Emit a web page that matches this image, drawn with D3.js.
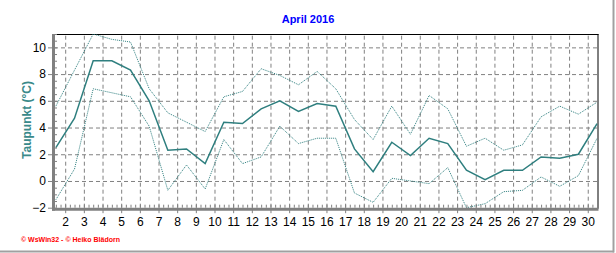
<!DOCTYPE html>
<html>
<head>
<meta charset="utf-8">
<script src="https://cdn.jsdelivr.net/npm/d3@7"></script>
<style>
  body { margin: 0; background: #fff; }
  svg { display: block; font-family: "Liberation Sans", Arial, sans-serif; }
  .tick text { fill: #000; }
</style>
</head>
<body>
<div class="chart"></div>
<script>
var svgWidth = 616;
var svgHeight = 253;

// plot frame inside the picture
var margin = { top: 34, right: 18, bottom: 45, left: 54 };
var width = 598 - margin.left;
var height = 207.7 - margin.top;

// values, one per day of April 2016
var days = d3.range(1, 31);
var dewMean = [2.5, 4.7, 9.0, 9.0, 8.3, 6.0, 2.3, 2.4, 1.3, 4.4,
               4.3, 5.4, 6.0, 5.2, 5.8, 5.6, 2.4, 0.7, 2.9, 1.9,
               3.2, 2.8, 0.8, 0.1, 0.8, 0.8, 1.8, 1.7, 2.0, 4.3];
var dewMax = [5.6, 8.3, 11.0, 10.6, 10.4, 6.9, 5.1, 4.4, 3.7, 6.3,
              6.7, 8.4, 7.9, 7.2, 8.2, 6.9, 4.6, 3.1, 5.6, 3.5,
              6.4, 5.4, 2.6, 3.2, 2.3, 2.7, 4.8, 5.6, 5.0, 5.9];
var dewMin = [-1.4, 0.9, 6.9, 6.6, 6.3, 4.1, -0.7, 1.2, -0.6, 3.1,
              1.3, 1.8, 4.1, 2.8, 3.2, 3.2, -0.9, -1.6, 0.2, 0.0,
              -0.2, 1.0, -2.0, -1.7, -0.8, -0.7, 0.3, -0.4, 0.4, 3.2];
var xTickDays = d3.range(2, 31);
var yTickValues = [-2, 0, 2, 4, 6, 8, 10];

var lineColor = "#2f7f7f";
var gridColor = "#808080";

var svg = d3.select(".chart")
    .append("svg")
    .attr("width", svgWidth)
    .attr("height", svgHeight);

// window frame lines on the right and bottom
svg.append("line")
    .attr("x1", 613.5).attr("x2", 613.5).attr("y1", 0).attr("y2", 252.5)
    .attr("stroke", "#a0a0a0").attr("stroke-width", 2);
svg.append("line")
    .attr("x1", 0).attr("x2", 614).attr("y1", 251.5).attr("y2", 251.5)
    .attr("stroke", "#a0a0a0").attr("stroke-width", 2);

var chartGroup = svg.append("g")
    .attr("transform", `translate(${margin.left}, ${margin.top})`);

// days are plotted at noon, so a point sits between two grid lines
var xScale = d3.scaleLinear()
    .domain([1.4, 30.55])
    .range([0, width]);

var yScale = d3.scaleLinear()
    .domain([-2, 11])
    .range([height, 0]);

// dashed grid
chartGroup.append("g")
    .attr("class", "grid")
    .call(d3.axisLeft(yScale).tickValues([0, 2, 4, 6, 8, 10]).tickSize(-width).tickFormat(""))
    .call(g => g.select(".domain").remove())
    .selectAll("line")
    .attr("stroke", gridColor)
    .attr("stroke-dasharray", "4,3");

chartGroup.append("g")
    .attr("class", "grid")
    .attr("transform", `translate(0, ${height})`)
    .call(d3.axisBottom(xScale).tickValues(xTickDays).tickSize(-height).tickFormat(""))
    .call(g => g.select(".domain").remove())
    .selectAll("line")
    .attr("stroke", gridColor)
    .attr("stroke-dasharray", "4,3");

// top and right border
chartGroup.append("line")
    .attr("x1", 0).attr("x2", width + 0.5).attr("y1", 0.5).attr("y2", 0.5)
    .attr("stroke", "#000");
chartGroup.append("line")
    .attr("x1", width).attr("x2", width).attr("y1", 0).attr("y2", height + 1)
    .attr("stroke", "#000");

// clip so the lines stay inside the frame
chartGroup.append("clipPath")
    .attr("id", "plot-clip")
    .append("rect")
    .attr("x", 0).attr("y", 0)
    .attr("width", width).attr("height", height + 1);

var lineGen = function (values) {
    return d3.line()
        .x((d, i) => xScale(days[i] + 0.5))
        .y(d => yScale(d))(values);
};

var linesGroup = chartGroup.append("g").attr("clip-path", "url(#plot-clip)");

linesGroup.append("path")
    .attr("d", lineGen(dewMax))
    .attr("fill", "none")
    .attr("stroke", lineColor)
    .attr("stroke-width", 1)
    .attr("stroke-dasharray", "1,1");

linesGroup.append("path")
    .attr("d", lineGen(dewMin))
    .attr("fill", "none")
    .attr("stroke", lineColor)
    .attr("stroke-width", 1)
    .attr("stroke-dasharray", "1,1");

linesGroup.append("path")
    .attr("d", lineGen(dewMean))
    .attr("fill", "none")
    .attr("stroke", lineColor)
    .attr("stroke-width", 1.5);

// minor ticks inside the axes
chartGroup.append("g")
    .call(d3.axisRight(yScale).tickValues(d3.range(-2, 11.01, 0.5)).tickSize(3).tickFormat(""))
    .call(g => g.select(".domain").remove())
    .selectAll("line").attr("stroke", gridColor);

chartGroup.append("g")
    .attr("transform", `translate(0, ${height})`)
    .call(d3.axisTop(xScale).tickValues(d3.range(1.5, 30.55, 0.25)).tickSize(3).tickFormat(""))
    .call(g => g.select(".domain").remove())
    .selectAll("line").attr("stroke", gridColor);

// left axis
var yAxis = chartGroup.append("g")
    .call(d3.axisLeft(yScale).tickValues(yTickValues).tickSize(6).tickPadding(2).tickSizeOuter(0));
yAxis.select(".domain").remove();
yAxis.selectAll("line").attr("stroke", gridColor);
yAxis.selectAll("text").attr("font-size", 12).attr("font-family", "Liberation Sans, Arial");

chartGroup.append("line")
    .attr("x1", -0.5).attr("x2", -0.5).attr("y1", 0).attr("y2", height + 3)
    .attr("stroke", gridColor).attr("stroke-width", 3);

// bottom axis
var xAxis = chartGroup.append("g")
    .attr("transform", `translate(0, ${height + 1.5})`)
    .call(d3.axisBottom(xScale).tickValues(xTickDays).tickSize(4).tickPadding(4).tickFormat(d3.format("d")));
xAxis.select(".domain").remove();
xAxis.selectAll("line").attr("stroke", gridColor);
xAxis.selectAll("text").attr("font-size", 12).attr("font-family", "Liberation Sans, Arial");

chartGroup.append("line")
    .attr("x1", -2).attr("x2", width + 0.5).attr("y1", height + 1.5).attr("y2", height + 1.5)
    .attr("stroke", gridColor).attr("stroke-width", 3);

// title
svg.append("text")
    .attr("x", 308)
    .attr("y", 23)
    .attr("text-anchor", "middle")
    .attr("font-size", 11)
    .attr("font-weight", "bold")
    .attr("fill", "#0000ff")
    .text("April 2016");

// y axis label
svg.append("text")
    .attr("transform", "translate(31, 120) rotate(-90)")
    .attr("text-anchor", "middle")
    .attr("font-size", 12)
    .attr("font-weight", "bold")
    .attr("fill", "#3a8a8a")
    .text("Taupunkt  (°C)");

// credit line
svg.append("text")
    .attr("x", 21)
    .attr("y", 241.5)
    .attr("font-size", 7)
    .attr("font-weight", "bold")
    .attr("fill", "#ff0000")
    .text("© WsWin32  -  © Heiko Blädorn");
</script>
</body>
</html>
